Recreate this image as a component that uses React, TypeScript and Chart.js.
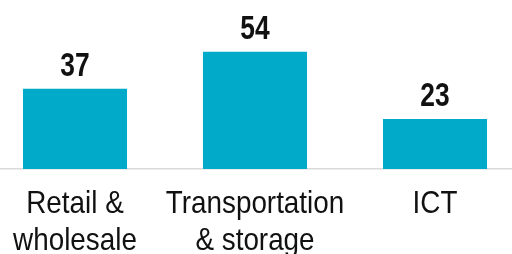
import React, { useEffect, useRef } from "react";
import { Chart, registerables } from "chart.js";

Chart.register(...registerables);

const categories: string[][] = [
  ["Retail &", "wholesale"],
  ["Transportation", "& storage"],
  ["ICT"],
];
const values: number[] = [37, 54, 23];

const FONT = "'Liberation Sans', Arial, sans-serif";
const BAR_COLOR = "#00AAC8";

function drawCondensed(ctx: any, text: string, x: number, y: number, sx: number) {
  ctx.save();
  ctx.translate(x, y);
  ctx.scale(sx, 1);
  ctx.fillText(text, 0, 0);
  ctx.restore();
}

const labelsPlugin = {
  id: "labelsPlugin",
  afterDraw(chart: any) {
    const { ctx } = chart;
    const meta = chart.getDatasetMeta(0);
    const xScale = chart.scales.x;
    const bottom = chart.chartArea.bottom;
    ctx.save();
    ctx.textAlign = "center";
    ctx.textBaseline = "alphabetic";
    // value labels
    ctx.fillStyle = "#111111";
    ctx.font = `bold 33px ${FONT}`;
    meta.data.forEach((bar: any, i: number) => {
      drawCondensed(ctx, String(values[i]), bar.x, bar.y - 13, 0.8);
    });
    // category labels
    ctx.font = `32px ${FONT}`;
    categories.forEach((lines, i) => {
      const x = xScale.getPixelForValue(i);
      lines.forEach((line, j) => {
        drawCondensed(ctx, line, x, bottom + 44 + j * 37, 0.87);
      });
    });
    ctx.restore();
  },
};

export default function App() {
  const ref = useRef<HTMLCanvasElement | null>(null);
  useEffect(() => {
    if (!ref.current) return;
    const chart = new Chart(ref.current, {
      type: "bar",
      data: {
        labels: categories.map((c) => c.join(" ")),
        datasets: [
          {
            data: values,
            backgroundColor: BAR_COLOR,
            borderWidth: 0,
            categoryPercentage: 1,
            barPercentage: 0.578,
          },
        ],
      },
      options: {
        responsive: false,
        maintainAspectRatio: false,
        animation: false,
        layout: { padding: { top: 17, left: 0, right: 0, bottom: 0 } },
        plugins: {
          legend: { display: false },
          tooltip: { enabled: false },
        },
        scales: {
          x: {
            grid: { display: true, drawOnChartArea: false, drawTicks: false, color: "transparent" },
            border: { display: true, color: "#d9d9d9", width: 1.5 },
            ticks: { display: false },
            afterFit: (scale: any) => {
              scale.height = 85;
            },
          },
          y: {
            display: false,
            min: 0,
            max: 70,
          },
        },
      },
      plugins: [labelsPlugin],
    });
    return () => chart.destroy();
  }, []);
  return (
    <div style={{ position: "absolute", left: 0, top: 0, width: 512, height: 254, overflow: "hidden", background: "#fff" }}>
      <canvas ref={ref} width={540} height={254} style={{ position: "absolute", left: -15, top: 0, width: 540, height: 254 }} />
    </div>
  );
}
